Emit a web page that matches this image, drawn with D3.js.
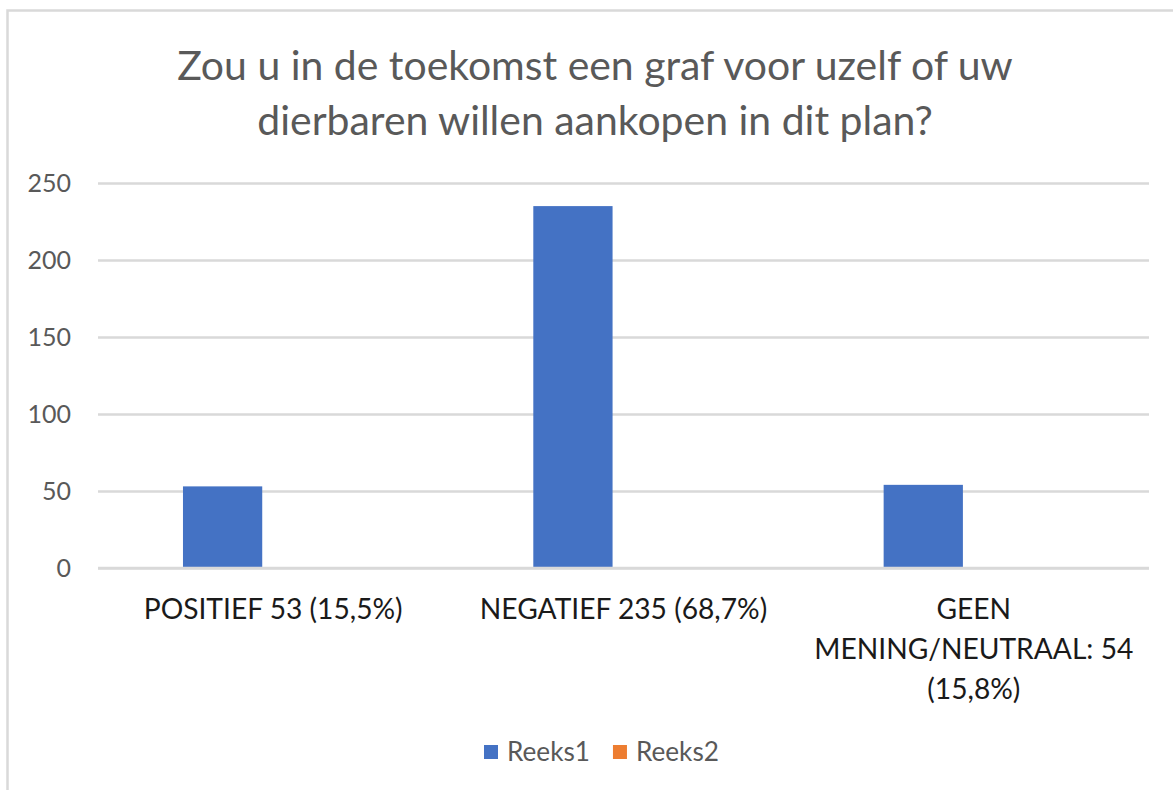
<!DOCTYPE html>
<html>
<head>
<meta charset="utf-8">
<script src="https://cdn.jsdelivr.net/npm/d3@7"></script>
<style>
  body { margin: 0; background: #fff; }
  svg { display: block; font-family: Lato, "Open Sans", sans-serif; }
</style>
</head>
<body>
<div id="chart"></div>
<script>
// chart data
var titleLines = ["Zou u in de toekomst een graf voor uzelf of uw", "dierbaren willen aankopen in dit plan?"];
var categories = ["POSITIEF 53 (15,5%)", "NEGATIEF 235 (68,7%)", "GEEN MENING/NEUTRAAL: 54 (15,8%)"];
var seriesNames = ["Reeks1", "Reeks2"];
var reeks1 = [53, 235, 54];
var reeks2 = [null, null, null];
var yTicks = [0, 50, 100, 150, 200, 250];
var colors = ["#4472C4", "#ED7D31"];

var width = 1173, height = 790;
var plot = { left: 98, right: 1149, top: 183, bottom: 568 };

var svg = d3.select("#chart").append("svg")
    .attr("width", width)
    .attr("height", height);

// chart border (right and bottom edges fall outside the picture)
svg.append("rect")
    .attr("x", 7.5).attr("y", 10.5)
    .attr("width", 1200).attr("height", 820)
    .attr("fill", "#fff")
    .attr("stroke", "#d9d9d9")
    .attr("stroke-width", 2.5);

// scale font so a text fits a target width
function fitSize(sel, target) {
    var w = sel.node().getComputedTextLength();
    var fs = parseFloat(sel.attr("font-size"));
    sel.attr("font-size", fs * target / w);
}

// title
var title = svg.append("g").attr("fill", "#595959");
title.selectAll("text")
    .data(titleLines)
    .enter().append("text")
    .attr("x", 595)
    .attr("y", function(d, i) { return 80 + i * 55; })
    .attr("text-anchor", "middle")
    .attr("font-size", 38)
    .text(function(d) { return d; });
var t0 = title.select("text");
fitSize(t0, 836);
title.selectAll("text").attr("font-size", t0.attr("font-size"));

var y = d3.scaleLinear()
    .domain([0, 250])
    .range([plot.bottom, plot.top]);

var x0 = d3.scaleBand()
    .domain(categories)
    .range([plot.left, plot.right])
    .padding(0);

var x1 = d3.scaleBand()
    .domain(seriesNames)
    .range([0, x0.bandwidth()])
    .paddingInner(0)
    .paddingOuter(1.21)
    .align(0.443);

// gridlines
svg.append("g")
    .attr("transform", "translate(" + plot.left + ",0)")
    .call(d3.axisLeft(y).tickValues(yTicks).tickSize(-(plot.right - plot.left)).tickFormat(""))
    .call(function(g) {
        g.select(".domain").remove();
        g.selectAll(".tick line").attr("stroke", "#d9d9d9").attr("stroke-width", 2.5);
    });

// y tick labels
svg.append("g")
    .selectAll("text")
    .data(yTicks)
    .enter().append("text")
    .attr("x", 71)
    .attr("y", function(d) { return y(d); })
    .attr("dy", "0.35em")
    .attr("text-anchor", "end")
    .attr("font-size", 25)
    .attr("fill", "#595959")
    .text(function(d) { return d; });

// bars
var seriesData = [reeks1, reeks2];
svg.append("g")
    .selectAll("g")
    .data(seriesData)
    .enter().append("g")
    .attr("fill", function(d, i) { return colors[i]; })
    .each(function(vals, si) {
        d3.select(this).selectAll("rect")
            .data(vals.map(function(v, ci) { return { cat: categories[ci], v: v }; })
                      .filter(function(d) { return d.v != null; }))
            .enter().append("rect")
            .attr("x", function(d) { return x0(d.cat) + x1(seriesNames[si]); })
            .attr("y", function(d) { return y(d.v); })
            .attr("width", x1.bandwidth())
            .attr("height", function(d) { return y(0) - y(d.v); });
    });

// baseline
svg.append("line")
    .attr("x1", plot.left).attr("x2", plot.right)
    .attr("y1", y(0)).attr("y2", y(0))
    .attr("stroke", "#d9d9d9").attr("stroke-width", 2.5);

// category labels, wrapped to the band width
var catFont = 25;
var catG = svg.append("g").attr("fill", "#1a1a1a");
var probe = catG.append("text").attr("font-size", catFont).text(categories[0]);
fitSize(probe, 259);
catFont = parseFloat(probe.attr("font-size"));
probe.remove();

categories.forEach(function(c) {
    var txt = catG.append("text")
        .attr("x", x0(c) + x0.bandwidth() / 2)
        .attr("y", 619)
        .attr("text-anchor", "middle")
        .attr("font-size", catFont);
    var words = c.split(" ");
    var lines = [], line = [];
    var tmp = txt.append("tspan");
    words.forEach(function(w) {
        line.push(w);
        tmp.text(line.join(" "));
        if (tmp.node().getComputedTextLength() > x0.bandwidth() - 10 && line.length > 1) {
            line.pop();
            lines.push(line.join(" "));
            line = [w];
        }
    });
    lines.push(line.join(" "));
    tmp.remove();
    lines.forEach(function(l, i) {
        txt.append("tspan")
            .attr("x", x0(c) + x0.bandwidth() / 2)
            .attr("dy", i === 0 ? 0 : 40)
            .text(l);
    });
});

// legend
var legend = svg.append("g").attr("fill", "#595959");
var lp = legend.append("text").attr("font-size", 24).text(seriesNames[0]);
fitSize(lp, 83);
var legFont = parseFloat(lp.attr("font-size"));
lp.remove();
legend.attr("font-size", legFont);
var lx = 484;
seriesNames.forEach(function(s, i) {
    legend.append("rect")
        .attr("x", lx).attr("y", 745)
        .attr("width", 14).attr("height", 14)
        .attr("fill", colors[i]);
    var t = legend.append("text")
        .attr("x", lx + 23).attr("y", 761)
        .text(s);
    lx += 23 + t.node().getComputedTextLength() + 23;
});
</script>
</body>
</html>
